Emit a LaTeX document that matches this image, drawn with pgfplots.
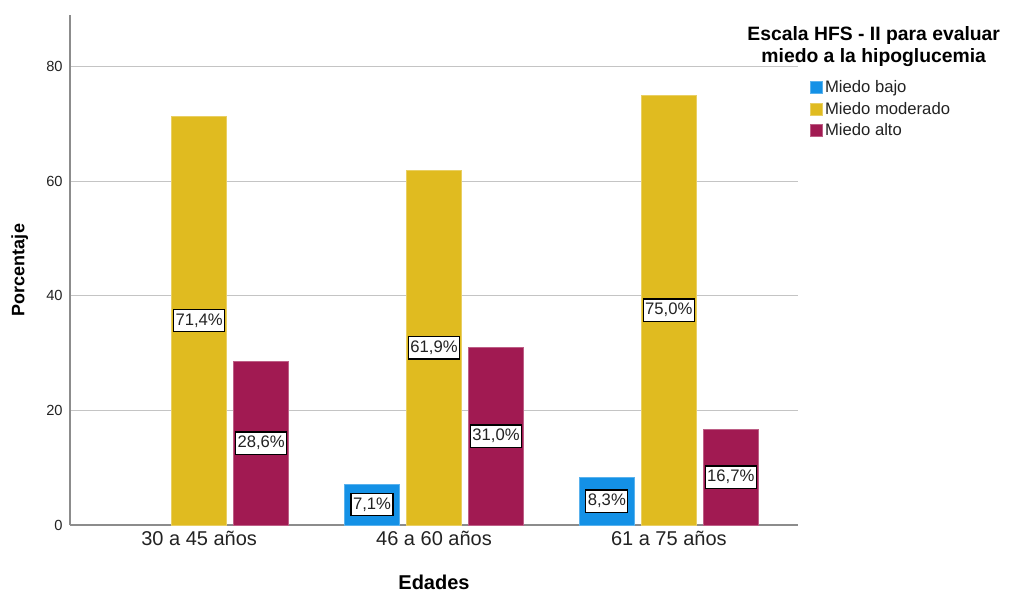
\documentclass[border=0pt]{standalone}
\usepackage{pgfplots}
\pgfplotsset{compat=1.18}
\usepackage{fontspec}
\setmainfont{Liberation Sans}
\definecolor{cbajo}{HTML}{1491E6}
\definecolor{cmod}{HTML}{E0BB20}
\definecolor{calto}{HTML}{A11A52}
\definecolor{gridc}{HTML}{C4C4C4}
\definecolor{axc}{HTML}{8C8C8C}
\definecolor{txt}{HTML}{222222}
\begin{document}
\begin{tikzpicture}
\path[use as bounding box] (-52.5pt,-51.75pt) rectangle (707.25pt,393.75pt);
\begin{axis}[
  at={(0,0)}, anchor=south west,
  scale only axis,
  width=546pt, height=382.5pt,
  xmin=-0.55, xmax=2.55,
  ymin=0, ymax=89.05,
  axis lines*=left,
  axis line style={draw=axc, line width=0.9pt},
  ybar=5.25pt, bar width=41.25pt,
  xtick={0,1,2},
  xticklabels={30 a 45 años, 46 a 60 años, 61 a 75 años},
  ytick={0,20,40,60,80},
  major tick length=0pt,
  ymajorgrids,
  grid style={draw=gridc, line width=0.8pt},
  /pgf/number format/assume math mode=true,
  yticklabel style={font=\fontsize{11}{13}\selectfont, xshift=-2pt, text=txt},
  xticklabel style={font=\fontsize{15}{17}\selectfont, yshift=-1pt, text=txt},
  ylabel={\textbf{Porcentaje}},
  ylabel style={font=\fontsize{13.5}{15}\selectfont, at={(axis description cs:-0.069,0.5)}, anchor=center, rotate=0},
  xlabel={\textbf{Edades}},
  xlabel style={font=\fontsize{15}{17}\selectfont, at={(axis description cs:0.5,-0.113)}, anchor=center},
  legend style={draw=none, fill=none, at={(axis description cs:1.014,0.880)}, anchor=north west,
    font=\fontsize{12.5}{14}\selectfont\color{txt}, row sep=1.6pt, inner sep=1pt},
  legend cell align=left,
  legend image code/.code={\fill[#1] (0pt,-4.5pt) rectangle (9pt,4.5pt);},
  nodes near coords={\pgfmathprintnumber[fixed, fixed zerofill, precision=1, use comma]{\pgfplotspointmeta}\%},
  visualization depends on=rawy \as \rawy,
  every node near coord/.append style={shift={(axis direction cs:0,-\rawy/2)}, anchor=center,
    fill=white, draw=black, line width=0.9pt, inner xsep=1.5pt, inner ysep=3.2pt, font=\fontsize{12.5}{14}\selectfont, text=txt},
  clip=false,
]
\addplot[fill=cbajo, draw=cbajo!70!white] coordinates {(1,7.1) (2,8.3)};
\addplot[fill=cmod, draw=cmod!70!white] coordinates {(0,71.4) (1,61.9) (2,75.0)};
\addplot[fill=calto, draw=calto!70!white] coordinates {(0,28.6) (1,31.0) (2,16.7)};
\legend{Miedo bajo, Miedo moderado, Miedo alto}
\node[align=center, font=\fontsize{14.5}{16.5}\selectfont\bfseries] at (axis description cs:1.104,0.939) {Escala HFS - II para evaluar\\miedo a la hipoglucemia};
\end{axis}
\end{tikzpicture}
\end{document}
